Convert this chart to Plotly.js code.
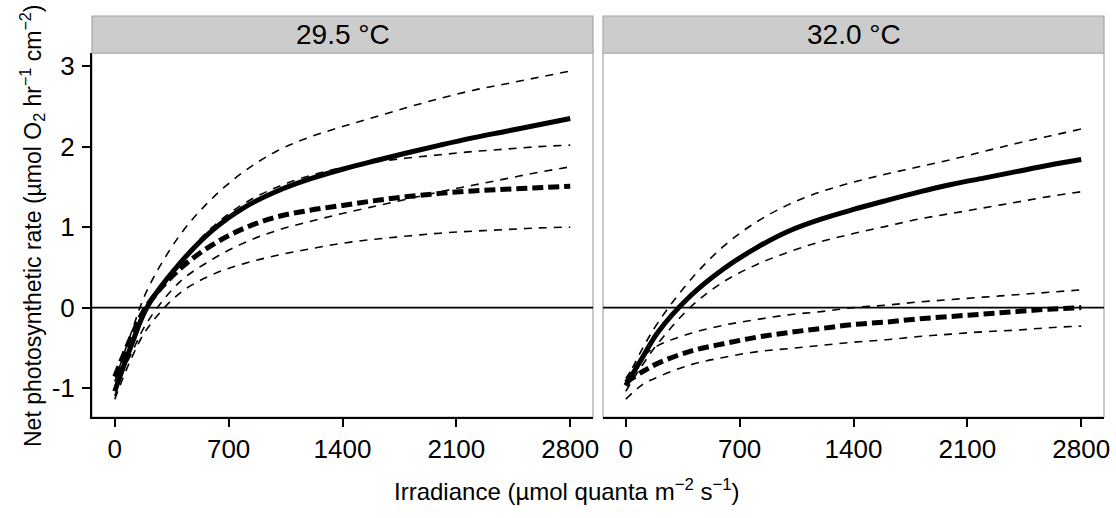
<!DOCTYPE html>
<html><head><meta charset="utf-8">
<script src="https://cdn.plot.ly/plotly-3.0.1.min.js"></script>
<style>html,body{margin:0;padding:0;background:#fff}#chart{width:1116px;height:518px}</style>
</head><body><div id="chart"></div>
<script>
// Irradiance sample points (µmol quanta m-2 s-1)
const irradiance = [0, 100, 200, 400, 600, 800, 1000, 1200, 1400, 1600, 1800, 2000, 2200, 2400, 2600, 2800];
const panelLabels = ['29.5 °C', '32.0 °C'];
const xTicks = [0, 700, 1400, 2100, 2800];
const yTicks = [-1, 0, 1, 2, 3];
const yTickText = ['-1', '0', '1', '2', '3'];

// 29.5 °C
const t295_solid   = [-1.04, -0.48, 0.01, 0.55, 0.96, 1.25, 1.45, 1.60, 1.72, 1.825, 1.925, 2.02, 2.11, 2.19, 2.27, 2.35];
const t295_solidHi = [-0.92, -0.32, 0.22, 0.90, 1.36, 1.70, 1.95, 2.12, 2.25, 2.37, 2.49, 2.60, 2.70, 2.78, 2.86, 2.94];
const t295_solidLo = [-1.10, -0.52, -0.02, 0.56, 1.00, 1.30, 1.50, 1.64, 1.74, 1.81, 1.86, 1.90, 1.94, 1.97, 2.00, 2.02];
const t295_dash    = [-0.86, -0.37, 0.03, 0.48, 0.78, 0.99, 1.13, 1.21, 1.27, 1.33, 1.38, 1.42, 1.45, 1.47, 1.49, 1.51];
const t295_dashHi  = [-1.00, -0.58, -0.18, 0.32, 0.60, 0.81, 0.96, 1.07, 1.17, 1.26, 1.35, 1.44, 1.52, 1.60, 1.68, 1.75];
const t295_dashLo  = [-1.14, -0.64, -0.26, 0.18, 0.41, 0.55, 0.65, 0.73, 0.80, 0.85, 0.89, 0.925, 0.95, 0.97, 0.99, 1.00];

// 32.0 °C
const t320_solid   = [-0.97, -0.63, -0.30, 0.15, 0.48, 0.74, 0.95, 1.10, 1.22, 1.33, 1.435, 1.53, 1.61, 1.69, 1.77, 1.84];
const t320_solidHi = [-0.92, -0.52, -0.18, 0.35, 0.76, 1.06, 1.28, 1.44, 1.56, 1.66, 1.75, 1.84, 1.94, 2.04, 2.13, 2.22];
const t320_solidLo = [-1.04, -0.72, -0.44, 0.01, 0.32, 0.53, 0.69, 0.82, 0.92, 1.01, 1.10, 1.17, 1.24, 1.31, 1.38, 1.44];
const t320_dash    = [-0.93, -0.80, -0.69, -0.54, -0.45, -0.37, -0.31, -0.26, -0.21, -0.18, -0.14, -0.11, -0.08, -0.05, -0.02, 0.00];
const t320_dashHi  = [-0.88, -0.62, -0.47, -0.32, -0.22, -0.15, -0.09, -0.05, 0.00, 0.03, 0.07, 0.10, 0.13, 0.16, 0.19, 0.22];
const t320_dashLo  = [-1.14, -0.96, -0.86, -0.71, -0.62, -0.55, -0.51, -0.47, -0.43, -0.40, -0.36, -0.33, -0.30, -0.28, -0.25, -0.23];

const FONT = 'Liberation Sans, Arial, Helvetica, sans-serif';
const thin = {color: '#000', width: 1.6, dash: '8px,7px', shape: 'spline'};
const thickDash = {color: '#000', width: 5, dash: '11px,5px', shape: 'spline'};
const thickSolid = {color: '#000', width: 5, shape: 'spline'};

function tr(y, line, xa, ya) {
  return {x: irradiance, y: y, type: 'scatter', mode: 'lines', line: line,
          xaxis: xa, yaxis: ya, showlegend: false, hoverinfo: 'skip'};
}

const data = [
  tr(t295_solidHi, thin, 'x', 'y'),
  tr(t295_solidLo, thin, 'x', 'y'),
  tr(t295_dashHi, thin, 'x', 'y'),
  tr(t295_dashLo, thin, 'x', 'y'),
  tr(t295_dash, thickDash, 'x', 'y'),
  tr(t295_solid, thickSolid, 'x', 'y'),
  tr(t320_solidHi, thin, 'x2', 'y2'),
  tr(t320_solidLo, thin, 'x2', 'y2'),
  tr(t320_dashHi, thin, 'x2', 'y2'),
  tr(t320_dashLo, thin, 'x2', 'y2'),
  tr(t320_dash, thickDash, 'x2', 'y2'),
  tr(t320_solid, thickSolid, 'x2', 'y2')
];

const plotH = 518 - 53 - 101;
const stripTop = 1 + 37 / plotH;

function xax(domain, anchor) {
  return {domain: domain, anchor: anchor, range: [-140, 2940], tickvals: xTicks,
    ticktext: xTicks.map(String), showgrid: false, zeroline: false,
    showline: true, linecolor: '#000', linewidth: 2,
    ticks: 'outside', ticklen: 8, tickwidth: 2, tickcolor: '#000',
    tickfont: {family: FONT, size: 26, color: '#000'}, fixedrange: true};
}

const shapes = [];
const annotations = [];
[['x', 'y'], ['x2', 'y2']].forEach(function (p, i) {
  shapes.push({type: 'rect', xref: p[0] + ' domain', yref: p[1] + ' domain', x0: 0, x1: 1, y0: 0, y1: 1,
    line: {color: '#a6a6a6', width: 1.2}, fillcolor: 'rgba(0,0,0,0)', layer: 'below'});
  shapes.push({type: 'rect', xref: p[0] + ' domain', yref: 'paper', x0: 0, x1: 1, y0: 1, y1: stripTop,
    line: {color: '#a6a6a6', width: 1.2}, fillcolor: '#cccccc', layer: 'above'});
  shapes.push({type: 'line', xref: p[0] + ' domain', yref: p[1], x0: 0, x1: 1, y0: 0, y1: 0,
    line: {color: '#000', width: 1.6}, layer: 'below'});
  annotations.push({xref: p[0] + ' domain', yref: 'paper', x: 0.5, y: (1 + stripTop) / 2,
    text: panelLabels[i], showarrow: false, xanchor: 'center', yanchor: 'middle',
    font: {family: FONT, size: 28, color: '#000'}});
});

annotations.push({xref: 'paper', yref: 'paper', x: (567 - 92) / 1012, y: (417 - 490) / plotH,
  text: 'Irradiance (µmol quanta m<sup>−2</sup> s<sup>−1</sup>)', showarrow: false,
  xanchor: 'center', yanchor: 'middle', font: {family: FONT, size: 24, color: '#000'}});
annotations.push({xref: 'paper', yref: 'paper', x: (32 - 92) / 1012, y: (417 - 226) / plotH,
  text: 'Net photosynthetic rate (µmol O<sub>2</sub> hr<sup>−1</sup> cm<sup>−2</sup>)', showarrow: false,
  textangle: -90, xanchor: 'center', yanchor: 'middle', font: {family: FONT, size: 23, color: '#000'}});

const layout = {
  width: 1116, height: 518,
  margin: {l: 92, r: 12, t: 53, b: 101, pad: 0},
  paper_bgcolor: '#fff', plot_bgcolor: '#fff',
  font: {family: FONT, color: '#000'},
  showlegend: false,
  xaxis: xax([0, 501 / 1012], 'y'),
  xaxis2: xax([511 / 1012, 1], 'y2'),
  yaxis: {domain: [0, 1], anchor: 'x', range: [-1.36, 3.165], tickvals: yTicks, ticktext: yTickText,
    showgrid: false, zeroline: false, showline: true, linecolor: '#000', linewidth: 2,
    ticks: 'outside', ticklen: 8, tickwidth: 2, tickcolor: '#000', ticklabelstandoff: 2,
    tickfont: {family: FONT, size: 26, color: '#000'}, fixedrange: true},
  yaxis2: {domain: [0, 1], anchor: 'x2', range: [-1.36, 3.165], showticklabels: false, ticks: '',
    showgrid: false, zeroline: false, showline: false, fixedrange: true},
  shapes: shapes,
  annotations: annotations
};

Plotly.newPlot('chart', data, layout, {displayModeBar: false, staticPlot: true});
</script>
</body></html>
